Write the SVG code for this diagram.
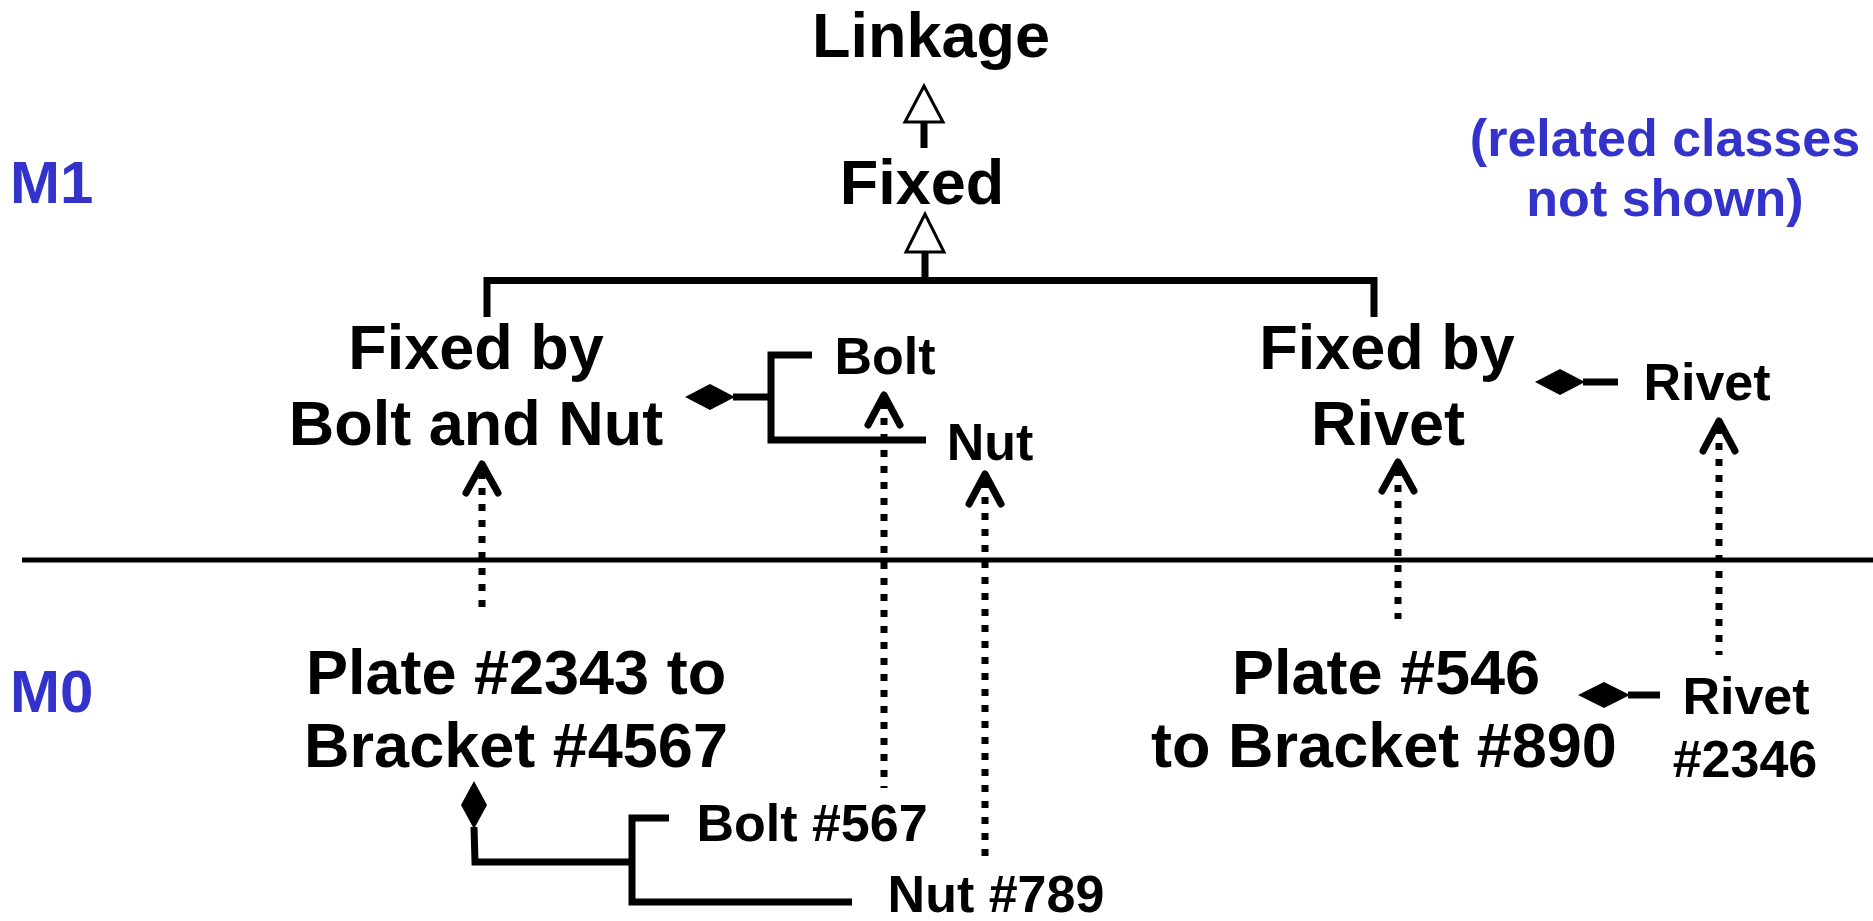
<svg xmlns="http://www.w3.org/2000/svg" width="1873" height="921" viewBox="0 0 1873 921">
<style>
.t{font-family:"Liberation Sans",Arial,Helvetica,sans-serif;font-weight:bold;fill:#000;text-anchor:middle}
.big{font-size:63px}
.sm{font-size:52px}
.blue{fill:#3333CC}
.ln{fill:none;stroke:#000;stroke-width:7;stroke-linecap:butt;stroke-linejoin:miter}
.div{fill:none;stroke:#000;stroke-width:5}
.dot{fill:none;stroke:#000;stroke-width:7;stroke-dasharray:7 9}
.open{fill:none;stroke:#000;stroke-width:7;stroke-linecap:round;stroke-linejoin:round}
.tri{fill:#fff;stroke:#000;stroke-width:3;stroke-linejoin:miter}
.dia{fill:#000;stroke:none}
</style>
<rect width="1873" height="921" fill="#fff"/>
<g id="level-labels">
<text class="t blue" x="10" y="203" style="text-anchor:start;font-size:60px">M1</text>
<text class="t blue" x="10" y="712" style="text-anchor:start;font-size:60px">M0</text>
<text class="t blue sm" x="1665" y="156">(related classes</text>
<text class="t blue sm" x="1665" y="216">not shown)</text>
</g>
<g id="node-linkage"><text class="t big" x="931" y="57">Linkage</text></g>
<g id="node-fixed"><text class="t big" x="922" y="204">Fixed</text></g>
<g id="node-fixed-bolt-nut"><text class="t big" x="476" y="369">Fixed by</text><text class="t big" x="476" y="445">Bolt and Nut</text></g>
<g id="node-bolt"><text class="t sm" x="885" y="374">Bolt</text></g>
<g id="node-nut"><text class="t sm" x="990" y="460">Nut</text></g>
<g id="node-fixed-rivet"><text class="t big" x="1387" y="369">Fixed by</text><text class="t big" x="1388" y="445">Rivet</text></g>
<g id="node-rivet"><text class="t sm" x="1707" y="400">Rivet</text></g>
<g id="node-plate2343"><text class="t big" x="516" y="694">Plate #2343 to</text><text class="t big" x="516" y="767">Bracket #4567</text></g>
<g id="node-bolt567"><text class="t sm" x="812" y="841">Bolt #567</text></g>
<g id="node-nut789"><text class="t sm" x="996" y="912">Nut #789</text></g>
<g id="node-plate546"><text class="t big" x="1386" y="694">Plate #546</text><text class="t big" x="1384" y="767">to Bracket #890</text></g>
<g id="node-rivet2346"><text class="t sm" x="1746" y="714">Rivet</text><text class="t sm" x="1745" y="777">#2346</text></g>
<g id="connectors">
<line class="div" x1="22" y1="560" x2="1873" y2="560"/>
<line class="ln" x1="924" y1="122" x2="924" y2="148"/>
<polygon class="tri" points="924,86 905,122 943,122"/>
<polyline class="ln" points="487,317 487,280.5 1374,280.5 1374,317"/>
<line class="ln" x1="925" y1="252" x2="925" y2="280"/>
<polygon class="tri" points="925,214 906,252 944,252"/>
<polygon class="dia" points="685,397 710,384 735,397 710,410"/>
<polyline class="ln" points="733,397 771,397"/>
<polyline class="ln" points="812,355 771,355 771,440 926,440"/>
<polygon class="dia" points="1535,382 1560,369 1585,382 1560,395"/>
<line class="ln" x1="1583" y1="382" x2="1618" y2="382"/>
<polygon class="dia" points="474,781 487,805 474,829 461,805"/>
<polyline class="ln" points="474,827 475,862 632,862"/>
<polyline class="ln" points="669,818 632,818 632,902 852,902"/>
<polygon class="dia" points="1578,695 1604,682 1630,695 1604,708"/>
<line class="ln" x1="1628" y1="695" x2="1660" y2="695"/>
<line class="dot" x1="482" y1="472" x2="482" y2="614"/>
<polyline class="open" points="466,493 482,464 498,493"/>
<line class="dot" x1="884" y1="402" x2="884" y2="788"/>
<polyline class="open" points="868,425 884,395 900,425"/>
<line class="dot" x1="985" y1="481" x2="985" y2="856"/>
<polyline class="open" points="969,504 985,474 1001,504"/>
<line class="dot" x1="1398" y1="469" x2="1398" y2="619"/>
<polyline class="open" points="1382,491 1398,462 1414,491"/>
<line class="dot" x1="1719" y1="427" x2="1719" y2="655"/>
<polyline class="open" points="1703,451 1719,421 1735,451"/>
</g>
</svg>
